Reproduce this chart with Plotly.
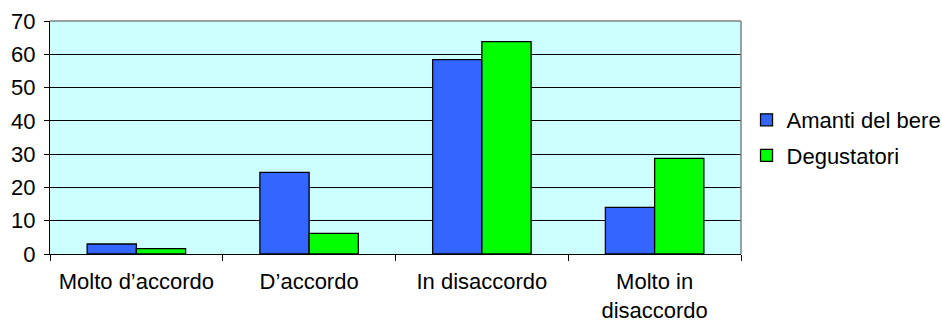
import plotly.graph_objects as go

categories = ["Molto d’accordo", "D’accordo", "In disaccordo", "Molto in<br>disaccordo"]
amanti = [3.0, 24.5, 58.4, 14.0]
degustatori = [1.6, 6.2, 63.8, 28.7]
series_names = ["Amanti del bere", "Degustatori"]
y_ticks = [0, 10, 20, 30, 40, 50, 60, 70]

FONT = "Liberation Sans, Arial, sans-serif"

fig = go.Figure()
fig.add_trace(go.Bar(x=categories, y=amanti, name=series_names[0], legendgroup="a",
                     marker=dict(color="#3366FF", line=dict(color="#000000", width=1.3))))
fig.add_trace(go.Bar(x=categories, y=degustatori, name=series_names[1], legendgroup="b",
                     marker=dict(color="#00FF00", line=dict(color="#000000", width=1.3))))

fig.update_layout(
    width=942, height=322,
    margin=dict(l=50, r=201, t=21, b=68, autoexpand=False),
    paper_bgcolor="white", plot_bgcolor="#CCFFFF",
    barmode="group", bargap=0.43, bargroupgap=0,
    font=dict(family=FONT, size=22, color="#000000"),
    showlegend=True,
    legend=dict(x=1.008, y=0.665, xanchor="left", yanchor="top",
                font=dict(family=FONT, size=22), bgcolor="rgba(0,0,0,0)",
                itemwidth=30, tracegroupgap=4),
    xaxis=dict(type="category", tickson="boundaries", ticks="outside", ticklen=6,
               tickcolor="#000000", showline=True, linecolor="#000000", linewidth=1,
               showgrid=False, tickfont=dict(family=FONT, size=22), ticklabelstandoff=8),
    yaxis=dict(range=[0, 70], tickvals=y_ticks, ticks="outside", ticklen=5,
               tickcolor="#000000", showline=True, linecolor="#000000", linewidth=1,
               showgrid=True, gridcolor="#000000", gridwidth=1, zeroline=False,
               tickfont=dict(family=FONT, size=22), ticklabelstandoff=4),
    shapes=[
        dict(type="line", xref="paper", yref="paper", x0=0, x1=1, y0=1, y1=1,
             line=dict(color="#808080", width=1.5)),
        dict(type="line", xref="paper", yref="paper", x0=1, x1=1, y0=0, y1=1,
             line=dict(color="#808080", width=1.5)),
    ],
)

fig.write_html("out.html")
